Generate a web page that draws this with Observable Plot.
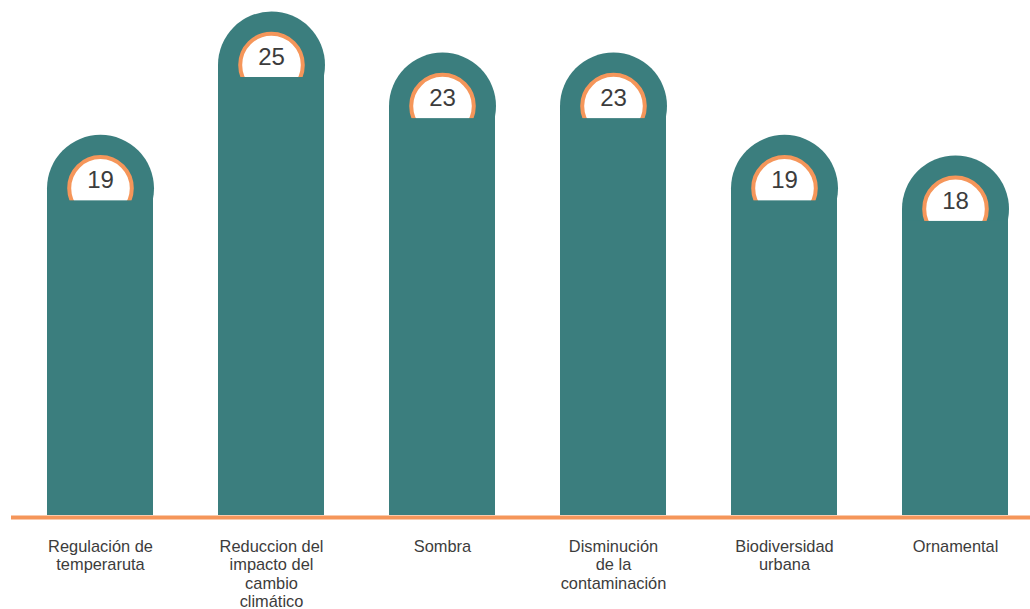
<!DOCTYPE html>
<html>
<head>
<meta charset="utf-8">
<script src="https://cdn.jsdelivr.net/npm/d3@7"></script>
<script src="https://cdn.jsdelivr.net/npm/@observablehq/plot@0.6"></script>
<style>
  html, body { margin: 0; padding: 0; background: #fff; }
  #chart svg { display: block; }
</style>
</head>
<body>
<div id="chart"></div>
<script>
const categories = ["Regulación de temperaruta", "Reduccion del impacto del cambio climático", "Sombra", "Disminución de la contaminación", "Biodiversidad urbana", "Ornamental"];
const values = [19, 25, 23, 23, 19, 18];
const tickLabels = ["Regulación de\ntemperaruta", "Reduccion del\nimpacto del\ncambio\nclimático", "Sombra", "Disminución\nde la\ncontaminación", "Biodiversidad\nurbana", "Ornamental"];

const teal = "#3b7e7e";
const orange = "#f5965a";
const data = categories.map((c, i) => ({cat: c, value: values[i], label: tickLabels[i]}));

const R = 53.5;
const chart = Plot.plot({
  width: 1030,
  height: 609,
  marginLeft: 11,
  marginRight: 0,
  marginTop: 0,
  marginBottom: 0,
  style: {fontFamily: "'Liberation Sans', Arial, Helvetica, sans-serif", background: "#fff"},
  x: {type: "band", domain: categories, range: [13.8, 1042.2], paddingInner: 0.379, paddingOuter: 0.1895, axis: null},
  y: {domain: [0, 25], range: [525, 11], axis: null},
  marks: [
    Plot.barY(data, {x: "cat", y: "value", fill: teal, insetTop: R, insetBottom: 10}),
    Plot.dot(data, {x: "cat", y: "value", r: R, dy: R, fill: teal}),
    Plot.dot(data, {x: "cat", y: "value", r: 31.3, dy: R, fill: "white", stroke: orange, strokeWidth: 4}),
    Plot.barY(data, {x: "cat", y: "value", fill: teal, insetTop: R + 12.5, insetBottom: 10}),
    Plot.ruleY([0], {dy: -8, stroke: orange, strokeWidth: 4}),
    Plot.text(data, {x: "cat", y: "value", text: d => String(d.value), dy: R - 8, fontSize: 24, fill: "#3c3c3c"}),
    Plot.text(data, {x: "cat", y: () => 0, text: "label", dy: 13, lineAnchor: "top", lineHeight: 1.13, fontSize: 16.4, fill: "#3c3c3c"})
  ]
});
document.getElementById("chart").appendChild(chart);
</script>
</body>
</html>
